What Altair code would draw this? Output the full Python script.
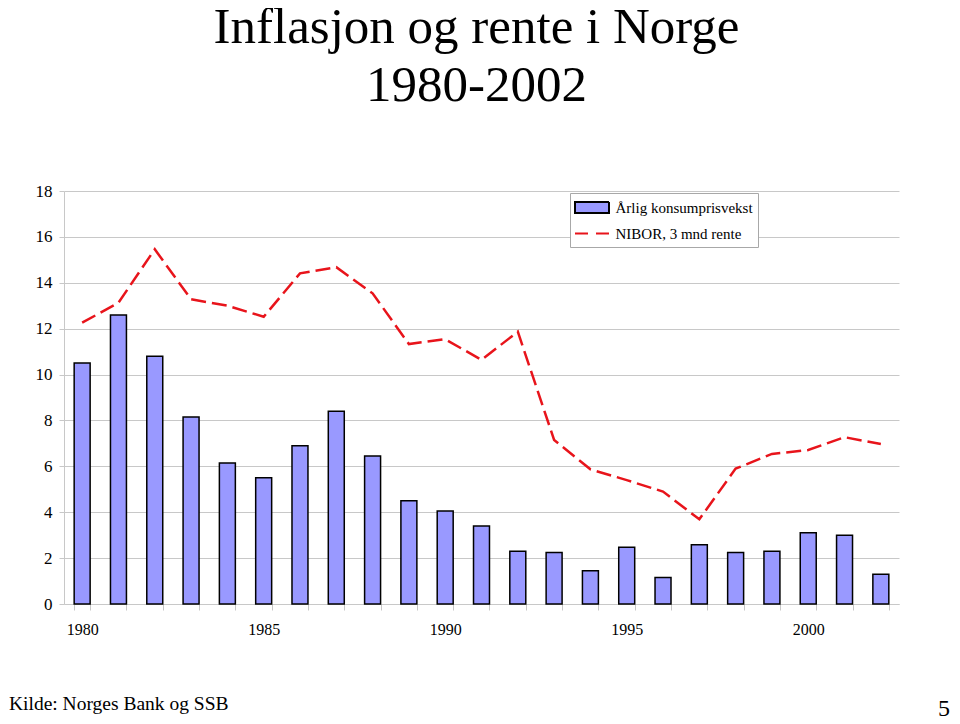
import altair as alt
import pandas as pd

# ---------------- data ----------------
years = list(range(1980, 2003))
inflasjon = [10.5, 12.6, 10.8, 8.15, 6.15, 5.5, 6.9, 8.4, 6.45, 4.5, 4.05, 3.4,
             2.3, 2.25, 1.45, 2.47, 1.16, 2.58, 2.25, 2.3, 3.1, 3.0, 1.3]
nibor = [12.26, 13.13, 15.46, 13.28, 13.0, 12.52, 14.41, 14.68, 13.54, 11.33, 11.54, 10.64,
         11.87, 7.15, 5.87, 5.4, 4.9, 3.69, 5.9, 6.54, 6.71, 7.27, 6.97]
series_names = ["Årlig konsumprisvekst", "NIBOR, 3 mnd rente"]
y_ticks = list(range(0, 19, 2))
x_label_years = [1980, 1985, 1990, 1995, 2000]
title_lines = ["Inflasjon og rente i Norge", "1980-2002"]
kilde_text = ["Kilde: Norges Bank og SSB"]
side_text = ["5"]

# ---------------- style ----------------
SERIF = "Liberation Serif"
GRID = "#c8c8c8"
BAR = "#9999ff"
RED = "#e8141b"

df = pd.DataFrame({"aar": years, "inflasjon": inflasjon, "nibor": nibor,
                   "serie": series_names[0]})

x_scale = alt.Scale(paddingInner=0.56, paddingOuter=0.28)
y_scale = alt.Scale(domain=[0, 18], nice=False)

x_axis = alt.Axis(
    title=None, labelAngle=0, labelFont=SERIF, labelFontSize=16, labelColor="black",
    labelExpr=f"indexof({x_label_years}, datum.value) >= 0 ? datum.label : ''",
    tickBand="extent", ticks=True, tickSize=6, tickColor=GRID, domainColor=GRID,
    grid=False, labelPadding=11,
)
y_axis = alt.Axis(
    title=None, values=y_ticks, labelFont=SERIF, labelFontSize=17, labelColor="black",
    tickSize=5, tickColor=GRID, domainColor=GRID, gridColor=GRID, labelPadding=7,
)

rect_path = "M-2,-0.65H2V0.65H-2Z"
line_path = "M-2,0H2"
legend = alt.Legend(
    title=None, orient="none", legendX=506, legendY=2,
    padding=5, rowPadding=6, fillColor="white", strokeColor="#a8a8a8",
    labelFont=SERIF, labelFontSize=15, labelColor="black", labelOffset=14,
    symbolSize=289, symbolOffset=7.5, symbolStrokeWidth=2,
    symbolType=alt.ExprRef(expr=f"datum.index == 0 ? '{rect_path}' : '{line_path}'"),
    symbolStrokeColor=alt.ExprRef(expr=f"datum.index == 0 ? 'black' : '{RED}'"),
    symbolDash=alt.ExprRef(expr="datum.index == 0 ? [1, 0] : [13, 8]"),
)

base = alt.Chart(df)

bars_fill = base.mark_bar(strokeWidth=0).encode(
    x=alt.X("aar:O", scale=x_scale, axis=x_axis),
    y=alt.Y("inflasjon:Q", scale=y_scale, axis=y_axis),
    fill=alt.Fill("serie:N", scale=alt.Scale(domain=series_names, range=[BAR, "transparent"]),
                  legend=legend),
)
bars_outline = base.mark_bar(fillOpacity=0, stroke="black", strokeWidth=1.5).encode(
    x="aar:O", y="inflasjon:Q"
)
line = base.mark_line(color=RED, strokeDash=[15, 6], strokeWidth=2.5).encode(
    x="aar:O", y="nibor:Q"
)

kilde = alt.Chart(pd.DataFrame({"t": kilde_text})).mark_text(
    align="left", baseline="alphabetic", font=SERIF, fontSize=19.5, color="black"
).encode(text="t:N", x=alt.value(-55), y=alt.value(519))

side = alt.Chart(pd.DataFrame({"t": side_text})).mark_text(
    align="right", baseline="alphabetic", font=SERIF, fontSize=24, color="black"
).encode(text="t:N", x=alt.value(886), y=alt.value(525))

chart = alt.layer(bars_fill, bars_outline, line, kilde, side).properties(
    width=835, height=413,
    autosize=alt.AutoSizeParams(type="none"),
    padding={"left": 56, "top": 183, "right": 53, "bottom": 120},
    background="white",
    title=alt.TitleParams(
        text=title_lines, font=SERIF, fontSize=51, fontWeight="normal", color="black",
        anchor="middle", frame="group", lineHeight=58, offset=70, dx=-5,
    ),
).configure_view(strokeWidth=0)

chart.save("out.html", embed_options={"renderer": "svg", "actions": False})
